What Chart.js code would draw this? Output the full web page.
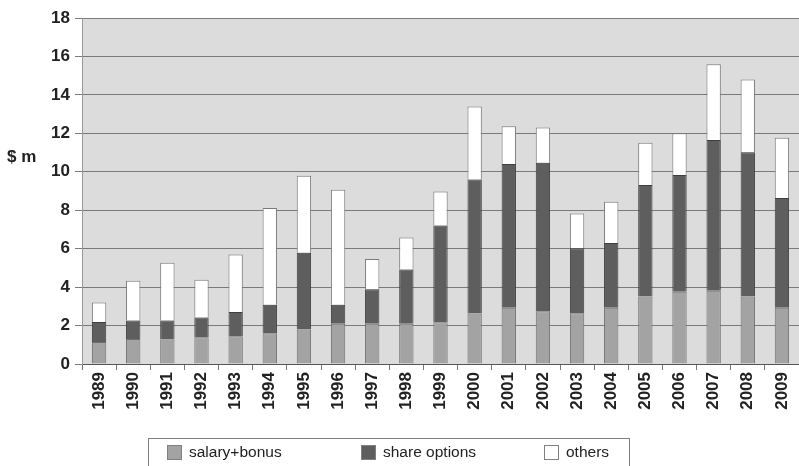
<!DOCTYPE html>
<html>
<head>
<meta charset="utf-8">
<script src="https://cdn.jsdelivr.net/npm/chart.js@4"></script>
<style>
html,body{margin:0;padding:0;background:#fff;}
#wrap{width:799px;height:466px;position:relative;}
</style>
</head>
<body>
<div id="wrap"><canvas id="c" width="799" height="466"></canvas></div>
<script>
const years = ["1989","1990","1991","1992","1993","1994","1995","1996","1997","1998","1999","2000","2001","2002","2003","2004","2005","2006","2007","2008","2009"];
const salaryBonus = [1.15,1.3,1.28,1.39,1.44,1.6,1.79,2.09,2.09,2.09,2.17,2.63,2.92,2.75,2.64,2.92,3.51,3.76,3.81,3.51,2.92];
const shareOptions = [1.04,0.96,0.98,1.03,1.27,1.48,4.0,0.99,1.8,2.83,5.03,6.97,7.48,7.72,3.38,3.38,5.8,6.07,7.84,7.5,5.71];
const others = [1.01,2.07,3.01,1.96,2.99,5.04,4.0,5.98,1.57,1.66,1.78,3.79,1.97,1.83,1.81,2.14,2.2,2.17,3.95,3.79,3.14];
const yTicks = [0,2,4,6,8,10,12,14,16,18];
const yLabel = "$ m";

const FONT = "'Liberation Sans', Arial, sans-serif";

const bgPlugin = {
  id: 'bg',
  beforeDraw(chart) {
    const {ctx, chartArea: a} = chart;
    ctx.save();
    ctx.fillStyle = '#dcdcdc';
    ctx.fillRect(a.left, a.top, a.right - a.left, a.bottom - a.top);
    ctx.restore();
  },
  afterDraw(chart) {
    const ctx = chart.ctx;
    ctx.save();
    ctx.fillStyle = '#222';
    ctx.font = "bold 17px " + FONT;
    ctx.textBaseline = 'middle';
    ctx.textAlign = 'left';
    ctx.fillText(yLabel, 7, 157);
    ctx.strokeStyle = '#808080';
    ctx.lineWidth = 1;
    ctx.strokeRect(148.5, 438.5, 481, 40);
    const xs = [167, 361, 544];
    ctx.font = "15.5px " + FONT;
    chart.data.datasets.forEach((ds, i) => {
      ctx.fillStyle = ds.backgroundColor;
      ctx.fillRect(xs[i], 445, 15, 15);
      ctx.strokeStyle = '#808080';
      ctx.strokeRect(xs[i] + 0.5, 445.5, 14, 14);
      ctx.fillStyle = '#222';
      ctx.fillText(ds.label, xs[i] + 22, 453);
    });
    ctx.restore();
  }
};

new Chart(document.getElementById('c'), {
  type: 'bar',
  data: {
    labels: years,
    datasets: [
      {label: 'salary+bonus', data: salaryBonus, backgroundColor: '#a3a3a3', borderColor: '#6f6f6f', borderWidth: 1},
      {label: 'share options', data: shareOptions, backgroundColor: '#5e5e5e', borderColor: '#3e3e3e', borderWidth: 1},
      {label: 'others', data: others, backgroundColor: '#ffffff', borderColor: '#7a7a7a', borderWidth: 1}
    ]
  },
  options: {
    responsive: false,
    animation: false,
    devicePixelRatio: 1,
    layout: {padding: {left: 0, right: 0, top: 18, bottom: 0}},
    datasets: {bar: {barPercentage: 0.42, categoryPercentage: 1.0}},
    plugins: {legend: {display: false}, tooltip: {enabled: false}},
    scales: {
      x: {
        stacked: true,
        afterFit(s) { s.height = 102; s.paddingRight = 0; s.paddingLeft = 0; },
        grid: {display: true, drawOnChartArea: false, drawTicks: true, tickLength: 6, color: '#777', offset: true},
        border: {display: true, color: '#555', width: 1},
        ticks: {
          color: '#222', font: {family: FONT, size: 17, weight: 'bold'},
          minRotation: 90, maxRotation: 90, padding: 2, autoSkip: false
        }
      },
      y: {
        stacked: true,
        min: 0, max: 18,
        afterFit(s) { s.width = 82; s.paddingTop = 0; s.paddingBottom = 0; },
        afterBuildTicks(s) { s.ticks = yTicks.map(v => ({value: v})); },
        grid: {color: '#7a7a7a', lineWidth: 1, tickLength: 7, drawTicks: true},
        border: {display: true, color: '#999', width: 1},
        ticks: {color: '#222', font: {family: FONT, size: 17, weight: 'bold'}, padding: 5}
      }
    }
  },
  plugins: [bgPlugin]
});
</script>
</body>
</html>
